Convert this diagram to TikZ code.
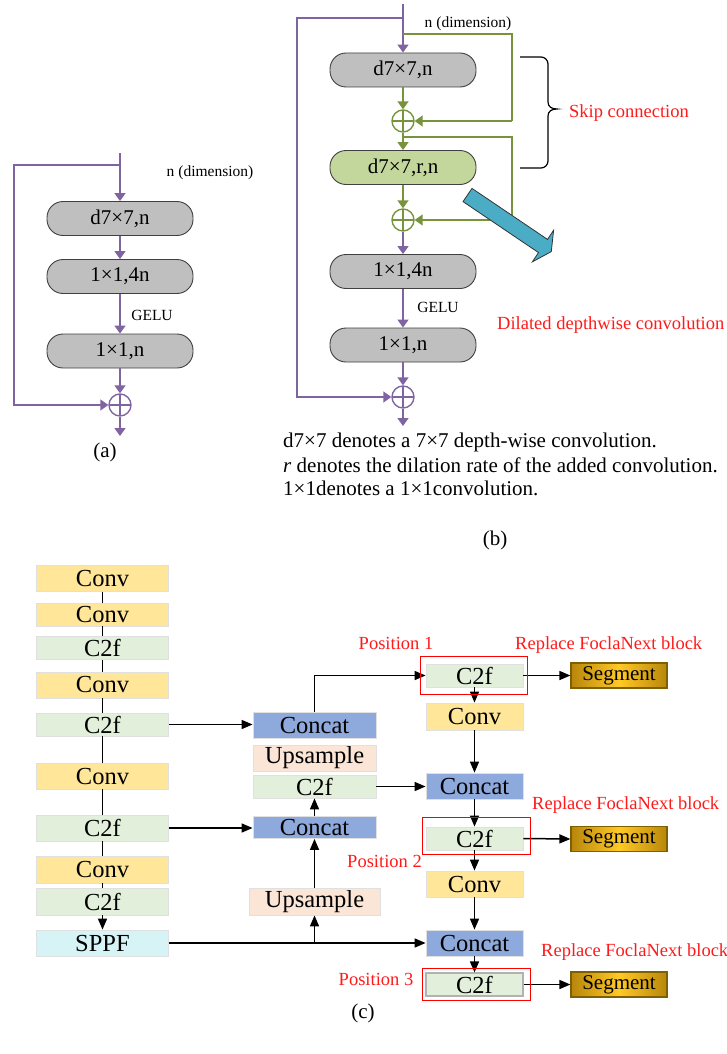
\documentclass[tikz,border=0pt]{standalone}
\usepackage{fontspec}
\setmainfont{Liberation Serif}
\usetikzlibrary{arrows.meta,calc}

\definecolor{purp}{HTML}{8064A2}
\definecolor{olivegr}{HTML}{77933C}
\definecolor{pillgray}{HTML}{BFBFBF}
\definecolor{pillgreen}{HTML}{C3D69B}
\definecolor{convy}{HTML}{FFE699}
\definecolor{c2fg}{HTML}{E2EFDA}
\definecolor{concatb}{HTML}{8EA9DB}
\definecolor{upsp}{HTML}{FBE5D6}
\definecolor{sppfc}{HTML}{D6F3F5}
\definecolor{aquab}{HTML}{4BACC6}
\definecolor{segdark}{HTML}{B8860B}
\definecolor{seglight}{HTML}{FFC926}
\definecolor{segedge}{HTML}{7F6000}
\definecolor{redtxt}{HTML}{FF1A1A}

\tikzset{
  pill/.style={draw=black!75, line width=0.9pt, rounded corners=16pt,
    minimum width=146pt, minimum height=34pt, inner sep=0pt,
    fill=pillgray, font=\fontsize{21}{21}\selectfont},
  addc/.style={circle, draw=#1, line width=1.4pt, minimum size=22pt, inner sep=0pt,
    path picture={\draw[#1, line width=1.4pt]
      (path picture bounding box.north) -- (path picture bounding box.south)
      (path picture bounding box.west) -- (path picture bounding box.east);}},
  pline/.style={draw=purp, line width=1.6pt},
  parrow/.style={pline, -{Triangle[length=8pt,width=11pt]}},
  gline/.style={draw=olivegr, line width=1.6pt},
  garrow/.style={gline, -{Triangle[length=8pt,width=11pt]}},
  bline/.style={draw=black, line width=1.5pt},
  barrow/.style={bline, -{Triangle[length=11pt,width=9pt]}},
  small/.style={inner sep=0pt, font=\fontsize{15.5}{16}\selectfont},
  redlab/.style={inner sep=0pt, text=redtxt, font=\fontsize{18.5}{20}\selectfont},
  note/.style={inner sep=0pt, anchor=west, font=\fontsize{21}{23}\selectfont},
  figcap/.style={inner sep=0pt, font=\fontsize{21}{23}\selectfont},
  cbox/.style={draw=black!12, line width=0.8pt, minimum width=132pt, minimum height=26pt,
    inner sep=0pt, font=\fontsize{24.5}{25}\selectfont},
  conv/.style={cbox, fill=convy},
  ctwo/.style={cbox, fill=c2fg},
  concat/.style={cbox, fill=concatb},
  upsamp/.style={cbox, fill=upsp},
  sppf/.style={cbox, fill=sppfc},
  segm/.style={draw=segedge, line width=1.2pt, minimum width=96pt, minimum height=25pt,
    inner sep=0pt, left color=segdark, right color=segdark, middle color=seglight,
    font=\fontsize{21}{21}\selectfont},
  redbox/.style={draw=red, line width=1.6pt}
}

\begin{document}
\begin{tikzpicture}[x=1pt,y=-1pt]
\useasboundingbox (0,0) rectangle (727,1054);

% ---------- (a) ConvNeXt-style block ----------
\node[pill] (a1) at (120,218.5) {d7×7,n};
\node[pill] (a2) at (120,276.5) {1×1,4n};
\node[pill] (a3) at (120,351) {1×1,n};
\node[addc=purp] (ap) at (120,405) {};
\coordinate (aTop) at (120,153);
\coordinate (aSplit) at (120,165);
\coordinate (aCorner) at (14,405);
\coordinate (aOut) at (120,436);
\draw[parrow] (aTop) -- (a1.north);
\draw[parrow] (aSplit) -| (aCorner) -- (ap.west);
\draw[parrow] (a1.south) -- (a2.north);
\draw[parrow] (a2.south) -- (a3.north);
\draw[parrow] (a3.south) -- (ap.north);
\draw[parrow] (ap.south) -- (aOut);
\node[small] (adim) at (210,173) {n (dimension)};
\node[small] (agelu) at (152,315) {GELU};
\node[figcap] (acap) at (105,452) {(a)};

% ---------- (b) block with dilated depthwise convolution ----------
\node[pill] (b1) at (403,70) {d7×7,n};
\node[addc=olivegr] (bc1) at (403,121) {};
\node[pill, fill=pillgreen] (b2) at (403,167.5) {d7×7,r,n};
\node[addc=olivegr] (bc2) at (403,220) {};
\node[pill] (b3) at (403,271.5) {1×1,4n};
\node[pill] (b4) at (403,345) {1×1,n};
\node[addc=purp] (bc3) at (403,397) {};
\coordinate (bTop) at (403,4);
\coordinate (bSplit) at (403,18);
\coordinate (bCorner) at (297,397);
\coordinate (gSplitA) at (403,34);
\coordinate (gCornerA) at (512,121);
\coordinate (gSplitB) at (403,137);
\coordinate (gCornerB) at (512,220);
\coordinate (bOut) at (403,426);
\draw[parrow] (bTop) -- (b1.north);
\draw[parrow] (bSplit) -| (bCorner) -- (bc3.west);
\draw[gline] (gSplitA) -| (gCornerA);
\draw[garrow] (gCornerA) -- (bc1.east);
\draw[gline] (gSplitB) -| (gCornerB);
\draw[garrow] (gCornerB) -- (bc2.east);
\draw[garrow] (b1.south) -- (bc1.north);
\draw[garrow] (bc1.south) -- (b2.north);
\draw[garrow] (b2.south) -- (bc2.north);
\draw[parrow] (bc2.south) -- (b3.north);
\draw[parrow] (b3.south) -- (b4.north);
\draw[parrow] (b4.south) -- (bc3.north);
\draw[parrow] (bc3.south) -- (bOut);
\node[small] (bdim) at (468,24) {n (dimension)};
\node[small] (bgelu) at (438,307) {GELU};

% brace over the two skip connections (y grows downwards here)
\draw[black, line width=1.2pt]
  (520,57) -- (541,57) arc[start angle=-90, end angle=0, radius=7]
  -- (548,102) .. controls (548,107) and (552,109) .. (557,109)
  .. controls (552,109) and (548,111) .. (548,116)
  -- (548,161) arc[start angle=0, end angle=90, radius=7] -- (520,168);
\node[redlab] (skiplab) at (629,113) {Skip connection};

% block arrow pointing to the dilated convolution label
\filldraw[fill=aquab, draw=black!80, line width=0.8pt]
  (472,188.4) -- (547.5,239.4) -- (553.6,230.2) -- (551.3,251.6)
  -- (532.4,261.8) -- (538.5,252.6) -- (463,201.6) -- cycle;
\node[redlab, anchor=west] (dillab) at (497,325) {Dilated depthwise convolution};

\node[note] (n1) at (283,442) {d7×7 denotes a 7×7 depth-wise convolution.};
\node[note] (n2) at (283,465) {\textit{r} denotes the dilation rate of the added convolution.};
\node[note] (n3) at (283,488) {1×1denotes a 1×1convolution.};
\node[figcap] (bcap) at (495,540) {(b)};

% ---------- (c) network with replaced blocks ----------
% backbone
\node[conv] (L1) at (102.5,578.5) {Conv};
\node[conv, minimum height=23pt] (L2) at (102.5,614.5) {Conv};
\node[ctwo, minimum height=23pt] (L3) at (102.5,648) {C2f};
\node[conv] (L4) at (102.5,685) {Conv};
\node[ctwo, minimum height=23pt] (L5) at (102.5,724.5) {C2f};
\node[conv] (L6) at (102.5,776) {Conv};
\node[ctwo] (L7) at (102.5,828) {C2f};
\node[conv, minimum height=27pt] (L8) at (102.5,869.5) {Conv};
\node[ctwo, minimum height=27pt] (L9) at (102.5,901.5) {C2f};
\node[sppf] (L10) at (102.5,943) {SPPF};

% middle column
\node[concat, minimum width=123pt] (M1) at (314.5,725) {Concat};
\node[upsamp, minimum width=123pt] (M2) at (314.5,758) {Upsample};
\node[ctwo, minimum width=123pt, minimum height=23pt] (M3) at (314.5,786.5) {C2f};
\node[concat, minimum width=123pt, minimum height=22pt] (M4) at (314.5,827.5) {Concat};
\node[upsamp, minimum width=131pt, minimum height=27pt] (M5) at (314.5,901.5) {Upsample};

% head column
\node[ctwo, minimum width=97pt, minimum height=23pt] (R1) at (474.5,675.5) {C2f};
\node[conv, minimum width=97pt, minimum height=27pt] (R2) at (474.5,716.5) {Conv};
\node[concat, minimum width=97pt] (R3) at (474.5,786) {Concat};
\node[ctwo, minimum width=97pt, minimum height=23pt] (R4) at (474.5,838.5) {C2f};
\node[conv, minimum width=97pt] (R5) at (474.5,884) {Conv};
\node[concat, minimum width=97pt] (R6) at (474.5,943) {Concat};
\node[ctwo, draw=black!30, line width=1.2pt, minimum width=97pt, minimum height=23pt] (R7) at (474.5,984.5) {C2f};

\node[segm] (S1) at (619,675.5) {Segment};
\node[segm] (S2) at (619,839) {Segment};
\node[segm] (S3) at (619,984.5) {Segment};

% backbone connections
\draw[bline] (L1) -- (L2) (L2) -- (L3) (L3) -- (L4) (L4) -- (L5)
  (L5) -- (L6) (L6) -- (L7) (L7) -- (L8) (L8) -- (L9);
\draw[barrow] (L9) -- (L10);

% neck connections
\draw[barrow] (L5.east) -- (L5.east -| M1.west);
\draw[barrow] (L7.east) -- (L7.east -| M4.west);
\draw[barrow] (L10.east) -- (L10.east -| R6.west);
\draw[barrow] (M5.south |- L10.east) -- (M5.south);
\draw[barrow] (M5.north) -- (M4.south);
\draw[barrow] (M4.north) -- (M3.south);
\draw[barrow] (M1.north) |- (R1.west);
\draw[barrow] (M3.east) -- (M3.east -| R3.west);

% head connections
\draw[barrow] (R1.east) -- (S1.west);
\draw[barrow] (R1.south) -- (R2.north);
\draw[barrow] (R2.south) -- (R3.north);
\draw[barrow] (R3.south) -- (R4.north);
\draw[barrow] (R4.east) -- (S2.west);
\draw[barrow] (R4.south) -- (R5.north);
\draw[barrow] (R5.south) -- (R6.north);
\draw[barrow] (R6.south) -- (R7.north);
\draw[barrow] (R7.east) -- (S3.west);

% replaced block frames
\draw[redbox] ($(R1.south west)+(-5,7)$) rectangle ($(R1.north east)+(4,-7)$);
\draw[redbox] ($(R4.south west)+(-3,4)$) rectangle ($(R4.north east)+(7,-9)$);
\draw[redbox] ($(R7.south west)+(-3,4)$) rectangle ($(R7.north east)+(7,-4)$);

\node[redlab] (pos1) at (396,643) {Position 1};
\node[redlab] (pos2) at (384.5,861) {Position 2};
\node[redlab] (pos3) at (376,979) {Position 3};
\node[redlab, anchor=west] (rep1) at (515,645) {Replace FoclaNext block};
\node[redlab, anchor=west] (rep2) at (532,805) {Replace FoclaNext block};
\node[redlab, anchor=west] (rep3) at (541,952) {Replace FoclaNext block};

\node[figcap] (ccap) at (363,1013) {(c)};
\end{tikzpicture}
\end{document}
